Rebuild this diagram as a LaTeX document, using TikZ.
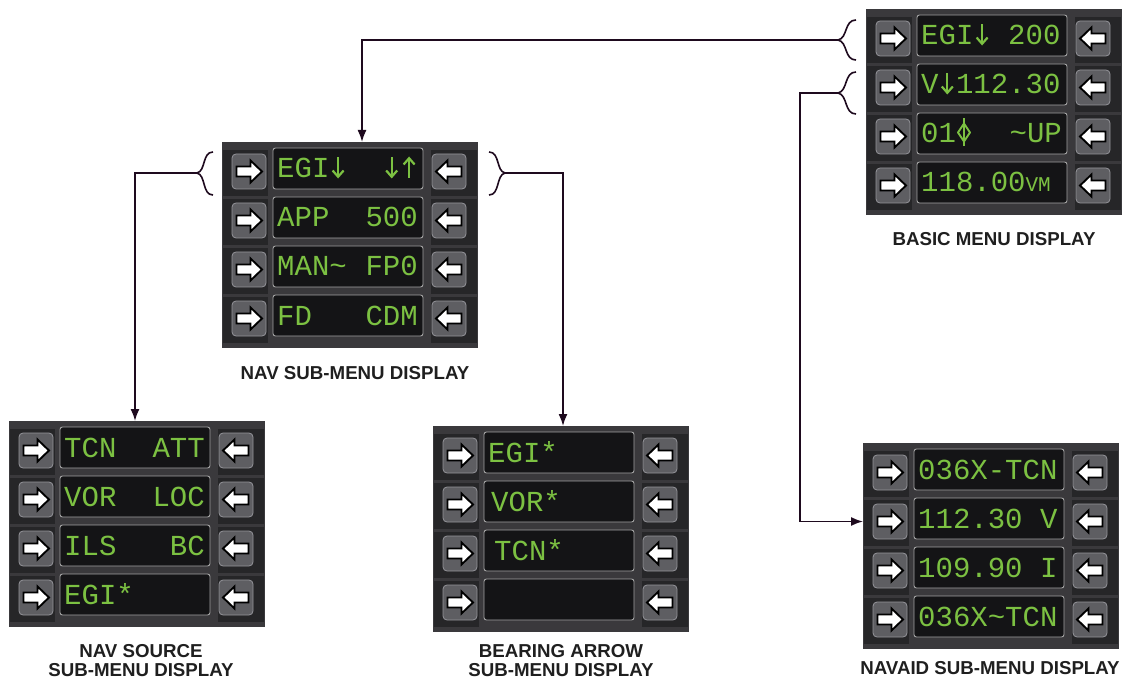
\documentclass[tikz,border=0pt]{standalone}
\usepackage{fontspec}
\setmainfont{Liberation Sans}
\newfontfamily\lcd{Liberation Mono}
\usetikzlibrary{calc,arrows.meta}
\definecolor{panelbg}{HTML}{3A393C}
\definecolor{paneldk}{HTML}{262628}
\definecolor{btnfill}{HTML}{5E5E62}
\definecolor{btnedge}{HTML}{95959A}
\definecolor{lcdbg}{HTML}{141416}
\definecolor{lcdedge}{HTML}{A4A4A4}
\definecolor{lcdgreen}{HTML}{7CC142}
\definecolor{conn}{HTML}{1E0A1E}
\newcommand\dn{\makebox[17.4pt]{\tikz[baseline=0pt,x=1pt,y=1pt]{\draw[lcdgreen,line width=2.2pt] (0,1.5)--(0,20.5); \draw[lcdgreen,line width=2.2pt,line join=miter,miter limit=4] (-5.5,7.5)--(0,1.2)--(5.5,7.5);}}}
\newcommand\up{\makebox[17.4pt]{\tikz[baseline=0pt,x=1pt,y=1pt]{\draw[lcdgreen,line width=2.2pt] (0,0)--(0,19.5); \draw[lcdgreen,line width=2.2pt,line join=miter,miter limit=4] (-5.5,13.5)--(0,19.8)--(5.5,13.5);}}}
\newcommand\tld{\char"7E\relax}
\tikzset{
  panelbox/.style={draw=none, fill=panelbg, minimum width=256pt, minimum height=206pt, inner sep=0pt, outer sep=0pt, anchor=north west},
  lcdbox/.style={draw=lcdedge, line width=0.9pt, fill=lcdbg, rounded corners=2.5pt, minimum width=150pt, minimum height=41pt, inner sep=0pt, outer sep=0pt, anchor=north west},
  btn/.style={draw=btnedge, line width=0.8pt, fill=btnfill, rounded corners=4pt, minimum width=34pt, minimum height=35pt, inner sep=0pt, outer sep=0pt, anchor=north west},
  btnarrow/.style={fill=white, draw=black, line width=1.9pt, line join=miter, miter limit=3},
  lcdtxt/.style={text=lcdgreen, font=\lcd\fontsize{29}{30}\selectfont, inner sep=0pt},
  caption/.style={font=\bfseries\fontsize{18.7}{20}\selectfont, inner sep=0pt, text=black!88},
  wire/.style={draw=conn, line width=1.6pt},
  arr/.style={wire, -{Latex[length=12pt,width=9pt]}},
}
\newcommand\rbarrow[1]{\draw[btnarrow, shift={(#1.center)}] (-12.5,-5) -- (1.5,-5) -- (1.5,-11) -- (13,0) -- (1.5,11) -- (1.5,5) -- (-12.5,5) -- cycle;}
\newcommand\lbarrow[1]{\draw[btnarrow, shift={(#1.center)}] (12.5,-5) -- (-1.5,-5) -- (-1.5,-11) -- (-13,0) -- (-1.5,11) -- (-1.5,5) -- (12.5,5) -- cycle;}
\newcommand\lcdpanel[3]{%
  \node[panelbox] (#1) at (#2,#3) {};
  \foreach \r in {1,...,4}{%
    \pgfmathsetmacro\ry{#3+6+49*(\r-1)}%
    \fill[paneldk] (#2+1,\ry+2) rectangle (#2+46,\ry+48);
    \fill[paneldk] (#2+209,\ry+2) rectangle (#2+255,\ry+48);
    \node[btn] (#1-l\r) at (#2+10,\ry+6) {};
    \node[btn] (#1-r\r) at (#2+210,\ry+6) {};
    \node[lcdbox] (#1-t\r) at (#2+51,\ry) {};
    \rbarrow{#1-l\r}
    \lbarrow{#1-r\r}
  }%
}
% left text: box, offset, text ; right text: box, text
\newcommand\ltxt[3]{\node[lcdtxt, anchor=base west] at ($(#1.north west)+(#2,30)$) {#3};}
\newcommand\rtxt[2]{\node[lcdtxt, anchor=base east] at ($(#1.north east)+(-5,30)$) {#2};}
\begin{document}
\begin{tikzpicture}[x=1pt,y=-1pt]
\useasboundingbox (0,0) rectangle (1125,679);
\fill[white] (0,0) rectangle (1125,679);

% panels
\lcdpanel{basic}{866}{9}
\lcdpanel{nav}{222}{142}
\lcdpanel{navsrc}{9}{421}
\lcdpanel{bearing}{433}{426}
\lcdpanel{navaid}{863}{443}

% basic menu texts
\ltxt{basic-t1}{4}{EGI\dn{} 200}
\ltxt{basic-t2}{4}{V\dn 112.30}
\ltxt{basic-t3}{4}{01}
\rtxt{basic-t3}{\tld UP}
\ltxt{basic-t4}{4}{118.00{\fontsize{21}{21}\selectfont VM}}
\begin{scope}[shift={($(basic-t3.north west)+(47,19.5)$)}]
  \draw[lcdgreen, line width=1.9pt] (0,-14) -- (0,14);
  \draw[lcdgreen, line width=1.9pt, line join=round] (0,-9) -- (6,0) -- (0,9) -- (-6,0) -- cycle;
\end{scope}

% nav sub-menu texts
\ltxt{nav-t1}{4}{EGI\dn}
\rtxt{nav-t1}{\dn\up}
\ltxt{nav-t2}{4}{APP}
\rtxt{nav-t2}{500}
\ltxt{nav-t3}{4}{MAN\tld}
\rtxt{nav-t3}{FP0}
\ltxt{nav-t4}{4}{FD}
\rtxt{nav-t4}{CDM}

% nav source texts
\ltxt{navsrc-t1}{4}{TCN}
\rtxt{navsrc-t1}{ATT}
\ltxt{navsrc-t2}{4}{VOR}
\rtxt{navsrc-t2}{LOC}
\ltxt{navsrc-t3}{4}{ILS}
\rtxt{navsrc-t3}{BC}
\ltxt{navsrc-t4}{4}{EGI*}

% bearing arrow texts
\ltxt{bearing-t1}{4}{EGI*}
\ltxt{bearing-t2}{7}{VOR*}
\ltxt{bearing-t3}{10}{TCN*}

% navaid texts
\ltxt{navaid-t1}{4}{036X-TCN}
\ltxt{navaid-t2}{4}{112.30 V}
\ltxt{navaid-t3}{4}{109.90 I}
\ltxt{navaid-t4}{4}{036X\tld TCN}

% captions
\node[caption, anchor=base] (capbasic) at (994,246) {BASIC MENU DISPLAY};
\node[caption, anchor=base] (capnav) at (355,379) {NAV SUB-MENU DISPLAY};
\node[caption, anchor=base] (capsrc1) at (141,657) {NAV SOURCE};
\node[caption, anchor=base] (capsrc2) at (141,676) {SUB-MENU DISPLAY};
\node[caption, anchor=base] (capbr1) at (561,657) {BEARING ARROW};
\node[caption, anchor=base] (capbr2) at (561,676) {SUB-MENU DISPLAY};
\node[caption, anchor=base] (capnavaid) at (990,674) {NAVAID SUB-MENU DISPLAY};

% braces
\coordinate (b1) at (838,40);
\coordinate (b2) at (838,93);
\coordinate (c1) at (197,173);
\coordinate (d1) at (505,173);
\draw[wire] (856,20) .. controls (844,20) and (848,38) .. (b1) .. controls (848,42) and (844,60) .. (856,60);
\draw[wire] (856,72) .. controls (844,72) and (848,91) .. (b2) .. controls (848,95) and (844,114) .. (856,114);
\draw[wire] (213,152) .. controls (202,152) and (206,171) .. (c1) .. controls (206,175) and (202,195) .. (213,195);
\draw[wire] (489,152) .. controls (500,152) and (496,171) .. (d1) .. controls (496,175) and (500,195) .. (489,195);

% connectors
\draw[arr] (b1) -| ([xshift=12pt]nav.north);
\draw[arr] (b2) -- ++(-38,0) |- (navaid.west |- navaid-l2.center);
\draw[arr] (c1) -| ([xshift=-2pt]navsrc.north);
\draw[arr] (d1) -| ([xshift=2pt]bearing.north);
\end{tikzpicture}
\end{document}
